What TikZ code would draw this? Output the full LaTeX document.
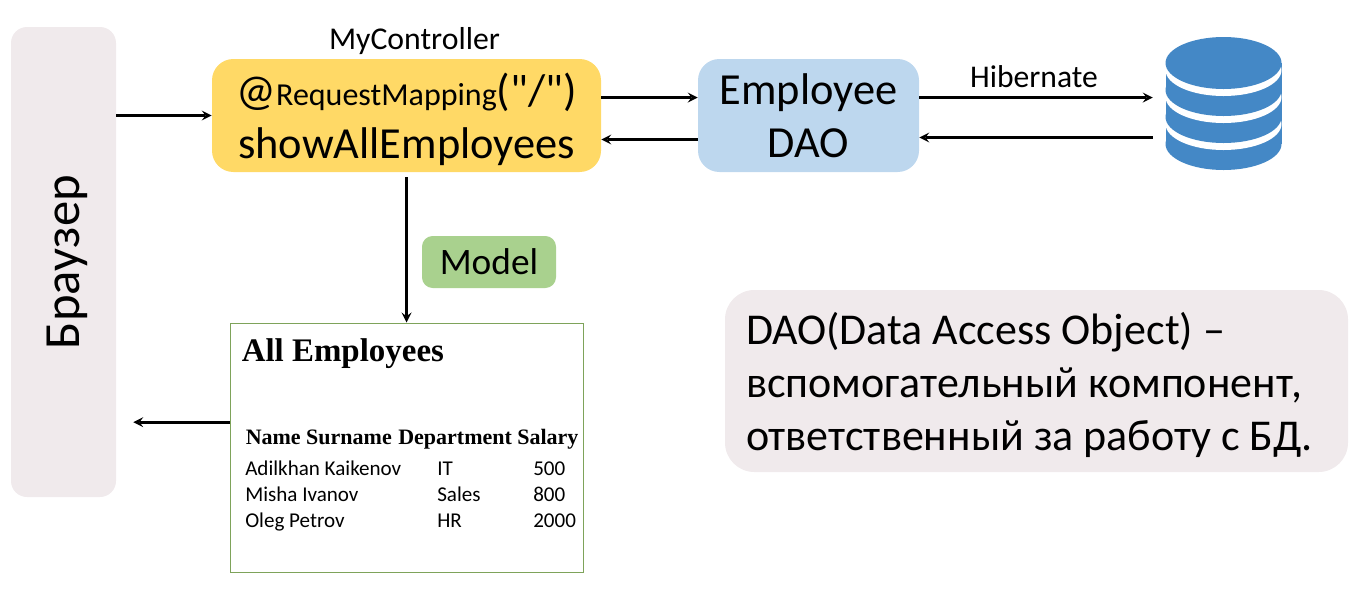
\documentclass[tikz,border=0pt]{standalone}
\usepackage{fontspec}
\setmainfont{Carlito}
\newfontfamily\timesfont{Liberation Serif}
\newfontfamily\plainquote{Carlito}
\usetikzlibrary{positioning, arrows}
\definecolor{paleback}{HTML}{F0EAEC}
\definecolor{ctrlyellow}{HTML}{FFD966}
\definecolor{daoblue}{HTML}{BDD7EE}
\definecolor{modelgreen}{HTML}{A9D18E}
\definecolor{pageborder}{HTML}{7EA35A}
\definecolor{dbblue}{HTML}{4488C6}
\newcommand{\firstline}{\rule{0pt}{30pt}}
\tikzstyle{arrow} = [line width=2.2pt,->,>=stealth]
\tikzstyle{facility} = [rectangle, rounded corners=16pt, minimum height=84.75pt, text centered, inner sep=0pt, fill=daoblue, font=\fontsize{33.3}{39.5}\selectfont, align=center]
\tikzstyle{cell} = [anchor=base west, inner sep=0pt, font=\fontsize{15.8}{18}\selectfont]
\tikzstyle{headcell} = [anchor=base west, inner sep=0pt, font=\timesfont\bfseries\fontsize{16.5}{19}\selectfont]
\begin{document}
\begin{tikzpicture}[x=0.75pt,y=-0.75pt]
            \useasboundingbox (0,0) rectangle (1362,593);
            \node (browser) [rectangle, rounded corners=12pt, minimum width=78.75pt, minimum height=352.5pt, inner sep=0pt, fill=paleback] at (63.5,262) {};
            \node (browsertext) [rotate=90, inner sep=0pt, font=\fontsize{38}{42}\selectfont] at (67,262) {Браузер};
            \node (ctrl) [facility, minimum width=291.75pt, fill=ctrlyellow] at (406.5,115.5) {\firstline @{\fontsize{24}{30}\selectfont RequestMapping}{\plainquote("/")}\\showAllEmployees};
            \node (ctrlname) [anchor=base, inner sep=0pt, font=\fontsize{23.8}{26}\selectfont] at (414.5,49) {MyController};
            \node (dao) [facility, minimum width=165.75pt, right of=ctrl, node distance=301.5pt] {Employee\\DAO};
            \node (db) [minimum width=87.75pt, minimum height=99.75pt, inner sep=0pt, right of=dao, node distance=311.25pt, yshift=9pt] {};
            \node (model) [facility, rounded corners=8pt, minimum width=100.5pt, minimum height=39pt, fill=modelgreen, font=\fontsize{28}{30}\selectfont, below of=ctrl, node distance=109.875pt, xshift=61.875pt] {Model};
            \node (page) [rectangle, minimum width=264.75pt, minimum height=186.75pt, draw=pageborder, line width=0.75pt, below of=ctrl, node distance=249pt, xshift=0.4pt] {};
            \node (note) [rectangle, rounded corners=22pt, minimum width=467.25pt, minimum height=136.5pt, inner sep=0pt, text width=435.75pt, align=flush left, fill=paleback, font=\fontsize{33}{40}\selectfont, below of=dao, node distance=199.125pt, xshift=171pt] {\firstline DAO(Data Access Object) --\\вспомогательный компонент,\\ответственный за работу с БД.};

            % database icon
            \foreach \c in {144,117,90} {
                \fill [white] (1223.5,\c+7) ellipse [x radius=58, y radius=26];
                \fill [dbblue] (1223.5,\c) ellipse [x radius=58, y radius=26];
                \fill [dbblue] (1165.5,\c) rectangle (1281.5,\c-27);
            }
            \fill [white] (1223.5,70) ellipse [x radius=58, y radius=26];
            \fill [dbblue] (1223.5,63) ellipse [x radius=58, y radius=26];

            % page contents
            \node (pagetitle) [anchor=base west, inner sep=0pt, font=\timesfont\bfseries\fontsize{24.7}{28}\selectfont] at (241.5,361) {All Employees};
            \node (headname) [headcell] at (245.5,444.5) {Name Surname};
            \node (headdept) [headcell] at (398,444.5) {Department};
            \node (headsalary) [headcell] at (517,444.5) {Salary};
            \node (nameone) [cell] at (245,475.7) {Adilkhan Kaikenov};
            \node (deptone) [cell] at (437,475.7) {IT};
            \node (salaryone) [cell] at (533,475.7) {500};
            \node (nametwo) [cell] at (245,501.7) {Misha Ivanov};
            \node (depttwo) [cell] at (437,501.7) {Sales};
            \node (salarytwo) [cell] at (533,501.7) {800};
            \node (namethree) [cell] at (245,527.7) {Oleg Petrov};
            \node (deptthree) [cell] at (437,527.7) {HR};
            \node (salarythree) [cell] at (533,527.7) {2000};

            \draw [arrow] (browser.east |- ctrl.west) -- (ctrl.west);
            \draw [arrow] ([yshift=13.5pt]ctrl.east) -- ([yshift=13.5pt]dao.west);
            \draw [arrow] ([yshift=-18pt]dao.west) -- ([yshift=-18pt]ctrl.east);
            \draw [arrow, shorten >=9pt] ([yshift=13.5pt]dao.east) -- node[anchor=south, inner sep=6.5pt, font=\fontsize{23.7}{26}\selectfont, xshift=-6pt]{Hibernate} ([yshift=13.5pt]dao.east -| db.west);
            \draw [arrow, shorten <=9pt] ([yshift=-16.5pt]dao.east -| db.west) -- ([yshift=-16.5pt]dao.east);
            \draw [arrow, shorten <=3.75pt] (ctrl.south) -- (ctrl.south |- page.north);
            \draw [arrow, shorten >=12.75pt] ([yshift=19pt]page.west) -- ([yshift=19pt]page.west -| browser.east);
\end{tikzpicture}
\end{document}
